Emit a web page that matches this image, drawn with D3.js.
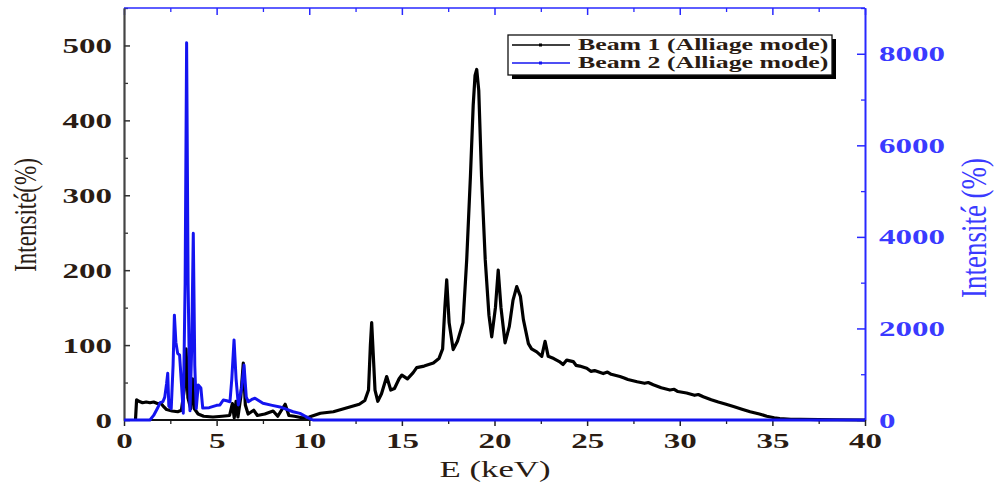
<!DOCTYPE html>
<html>
<head>
<meta charset="utf-8">
<script src="https://cdn.jsdelivr.net/npm/d3@7/dist/d3.min.js"></script>
<style>
  body { margin: 0; background: #fff; }
  text { font-family: "Liberation Serif", "Times New Roman", serif; }
</style>
</head>
<body>
<svg id="chart" width="999" height="488"></svg>
<script>
// Beam 1 spectrum (left axis, %), energy in keV
const beam1Energy = [0.62,0.68,0.8,1.0,1.2,1.4,1.6,1.8,2.0,2.1,2.3,2.6,2.9,3.1,3.25,3.35,3.45,3.6,3.7,3.8,4.0,4.3,4.8,5.3,5.7,5.85,5.95,6.05,6.15,6.3,6.44,6.55,6.7,7.0,7.2,7.6,8.05,8.3,8.7,8.9,9.2,9.6,10.0,10.6,11.3,12.0,12.7,13.0,13.2,13.3,13.37,13.45,13.55,13.7,13.9,14.18,14.4,14.6,14.85,15.0,15.3,15.6,15.8,16.2,16.7,17.0,17.2,17.32,17.42,17.55,17.77,18.0,18.3,18.5,18.7,18.85,18.95,19.04,19.15,19.3,19.5,19.7,19.85,20.05,20.2,20.35,20.57,20.8,21.0,21.2,21.4,21.56,21.83,22.0,22.28,22.55,22.73,22.9,23.2,23.5,23.7,23.9,24.25,24.4,24.6,24.98,25.2,25.4,25.87,26.1,26.3,26.77,27.0,27.2,27.7,28.1,28.3,28.57,29.0,29.47,29.7,29.9,30.37,30.8,31.0,31.27,31.7,32.08,32.5,32.9,33.4,33.8,34.3,34.7,35.1,35.4,36.0,36.5,37.5,38.5,40];
const beam1Intensity = [0,27,25,23,24,23,24,22,22,19,14,12,11,13,40,95,30,15,55,15,8,5,4,5,6,22,3,25,4,30,76,20,8,13,6,8,12,5,21,6,5,3,4,9,11,16,21,26,40,100,130,90,40,25,35,58,40,42,55,60,55,63,70,72,76,82,95,150,187,130,94,105,130,214,325,420,460,468,440,325,214,140,111,150,200,150,103,125,160,178,165,134,102,95,91,85,105,85,82,78,74,80,78,73,72,69,65,66,62,64,61,58,56,54,51,49,50,47,43,40,41,38,36,33,34,31,27,24,21,18,14,11,8,5,3,2,1,1,0.5,0.3,0];

// Beam 2 spectrum (right axis, %), energy in keV
const beam2Energy = [0,1.4,1.6,1.8,1.95,2.1,2.2,2.3,2.36,2.42,2.55,2.65,2.72,2.8,2.9,3.0,3.1,3.2,3.3,3.38,3.46,3.56,3.65,3.74,3.82,3.9,4.01,4.15,4.25,4.6,5.0,5.18,5.36,5.55,5.72,5.82,5.94,6.05,6.17,6.35,6.48,6.6,6.71,6.9,7.07,7.5,8.0,8.42,9.13,9.5,9.86,10.2,40];
const beam2Intensity = [0,0,100,250,380,400,500,800,1020,300,250,1200,2290,1700,1450,1420,800,150,3000,8240,3000,200,1500,4080,1200,250,765,700,260,270,320,330,437,420,400,900,1750,900,330,700,1200,500,400,450,475,365,320,285,180,145,65,0,0];

const seriesNames = ["Beam 1 (Alliage mode)", "Beam 2 (Alliage mode)"];
const seriesColors = ["#000000", "#1414f0"];

const xTickValues = [0,5,10,15,20,25,30,35,40];
const leftTickValues = [0,100,200,300,400,500];
const rightTickValues = [0,2000,4000,6000,8000];

const svg = d3.select("#chart");
const plotL = 124, plotR = 865, plotT = 8, plotB = 420;

const x = d3.scaleLinear().domain([0, 40]).range([plotL, plotR]);
const yL = d3.scaleLinear().domain([0, 550]).range([plotB, plotT]);
const yR = d3.scaleLinear().domain([0, 9000]).range([plotB, plotT]);

const axisBlue = "#2828ff";
const stretch = 1.5;

// minor ticks
svg.append("g").attr("transform", `translate(${plotL},0)`)
  .call(d3.axisLeft(yL).tickValues(d3.range(50, 551, 100)).tickSizeInner(-4).tickSizeOuter(0).tickFormat(""))
  .call(g => g.select(".domain").remove())
  .selectAll("line").attr("stroke", "#333").attr("stroke-width", 1.3);
svg.append("g").attr("transform", `translate(${plotR},0)`)
  .call(d3.axisRight(yR).tickValues(d3.range(1000, 9001, 2000)).tickSizeInner(-4).tickSizeOuter(0).tickFormat(""))
  .call(g => g.select(".domain").remove())
  .selectAll("line").attr("stroke", axisBlue).attr("stroke-width", 1.3);
svg.append("g").attr("transform", `translate(0,${plotB})`)
  .call(d3.axisBottom(x).tickValues(d3.range(2.5, 40, 5)).tickSizeInner(4).tickSizeOuter(0).tickFormat(""))
  .call(g => g.select(".domain").remove())
  .selectAll("line").attr("stroke", "#222").attr("stroke-width", 1.3);
svg.append("g").attr("transform", `translate(0,${plotT})`)
  .call(d3.axisTop(x).tickValues(d3.range(2.5, 40, 5)).tickSizeInner(-4).tickSizeOuter(0).tickFormat(""))
  .call(g => g.select(".domain").remove())
  .selectAll("line").attr("stroke", axisBlue).attr("stroke-width", 1.3);
svg.append("g").attr("transform", `translate(0,${plotT})`)
  .call(d3.axisTop(x).tickValues(xTickValues).tickSizeInner(-7).tickSizeOuter(0).tickFormat(""))
  .call(g => g.select(".domain").remove())
  .selectAll("line").attr("stroke", axisBlue).attr("stroke-width", 1.5);

// frame lines
svg.append("line").attr("x1", plotL).attr("x2", plotR).attr("y1", plotT).attr("y2", plotT)
  .attr("stroke", axisBlue).attr("stroke-width", 1.5);
svg.append("line").attr("x1", plotL).attr("x2", plotR).attr("y1", plotB).attr("y2", plotB)
  .attr("stroke", "#111").attr("stroke-width", 2);

// left axis
const gL = svg.append("g").attr("transform", `translate(${plotL},0)`)
  .call(d3.axisLeft(yL).tickValues(leftTickValues).tickSizeInner(-6).tickSizeOuter(0).tickPadding(12));
gL.select(".domain").attr("stroke", "#444").attr("stroke-width", 2.2);
gL.selectAll(".tick line").attr("stroke", "#333").attr("stroke-width", 1.5);
gL.selectAll(".tick text")
  .attr("font-size", 22).attr("font-weight", "bold").attr("fill", "#2a1c14")
  .attr("x", -12 / stretch).attr("transform", `scale(${stretch},1)`);

// right axis
const gR = svg.append("g").attr("transform", `translate(${plotR},0)`)
  .call(d3.axisRight(yR).tickValues(rightTickValues).tickFormat(d3.format("d")).tickSizeInner(-8).tickSizeOuter(0));
gR.select(".domain").attr("stroke", axisBlue).attr("stroke-width", 2);
gR.selectAll(".tick line").attr("stroke", axisBlue).attr("stroke-width", 1.5);
gR.selectAll(".tick text")
  .attr("font-size", 22).attr("font-weight", "bold").attr("fill", "#3a3aff")
  .attr("x", 14 / stretch).attr("transform", `scale(${stretch},1)`);

// bottom axis
const gB = svg.append("g").attr("transform", `translate(0,${plotB})`)
  .call(d3.axisBottom(x).tickValues(xTickValues).tickSizeInner(6).tickSizeOuter(0));
gB.select(".domain").remove();
gB.selectAll(".tick line").attr("stroke", "#222").attr("stroke-width", 1.5);
gB.selectAll(".tick text")
  .attr("font-size", 22).attr("font-weight", "bold").attr("fill", "#2a1c14")
  .attr("y", 12).attr("x", 0).attr("transform", `scale(${stretch},1)`);

// titles
svg.append("text")
  .attr("transform", `translate(495,477) scale(1.45,1)`)
  .attr("text-anchor", "middle").attr("font-size", 24).attr("fill", "#2a1c14")
  .text("E (keV)");
svg.append("text")
  .attr("transform", `translate(36,215) rotate(-90) scale(1,1.4)`)
  .attr("text-anchor", "middle").attr("font-size", 23).attr("fill", "#2a1c14")
  .text("Intensité(%)");
svg.append("text")
  .attr("transform", `translate(986,228) rotate(-90) scale(1,1.35)`)
  .attr("text-anchor", "middle").attr("font-size", 27).attr("fill", "#3a3aff")
  .text("Intensité (%)");

// spectra
const line1 = d3.line().x((d, i) => x(beam1Energy[i])).y(d => yL(d));
const line2 = d3.line().x((d, i) => x(beam2Energy[i])).y(d => yR(d));

svg.append("path").datum(beam1Intensity)
  .attr("d", line1).attr("fill", "none")
  .attr("stroke", seriesColors[0]).attr("stroke-width", 3.2).attr("stroke-linejoin", "round");
svg.append("path").datum(beam2Intensity)
  .attr("d", line2).attr("fill", "none")
  .attr("stroke", seriesColors[1]).attr("stroke-width", 3).attr("stroke-linejoin", "round");

// legend
const lg = svg.append("g");
lg.append("rect").attr("x", 512).attr("y", 39).attr("width", 324).attr("height", 40).attr("fill", "#000");
lg.append("rect").attr("x", 508).attr("y", 35).attr("width", 324).attr("height", 40)
  .attr("fill", "#fff").attr("stroke", "#111").attr("stroke-width", 1.3);
seriesNames.forEach((name, i) => {
  const yy = 45 + i * 18;
  lg.append("line").attr("x1", 512).attr("x2", 570).attr("y1", yy).attr("y2", yy)
    .attr("stroke", seriesColors[i]).attr("stroke-width", 1.3);
  lg.append("rect").attr("x", 539).attr("y", yy - 1.5).attr("width", 3).attr("height", 3)
    .attr("fill", seriesColors[i]);
  lg.append("text")
    .attr("transform", `translate(578,${yy + 5}) scale(1.52,1)`)
    .attr("font-size", 17).attr("font-weight", "bold").attr("fill", "#2a1c14")
    .text(name);
});
</script>
</body>
</html>
